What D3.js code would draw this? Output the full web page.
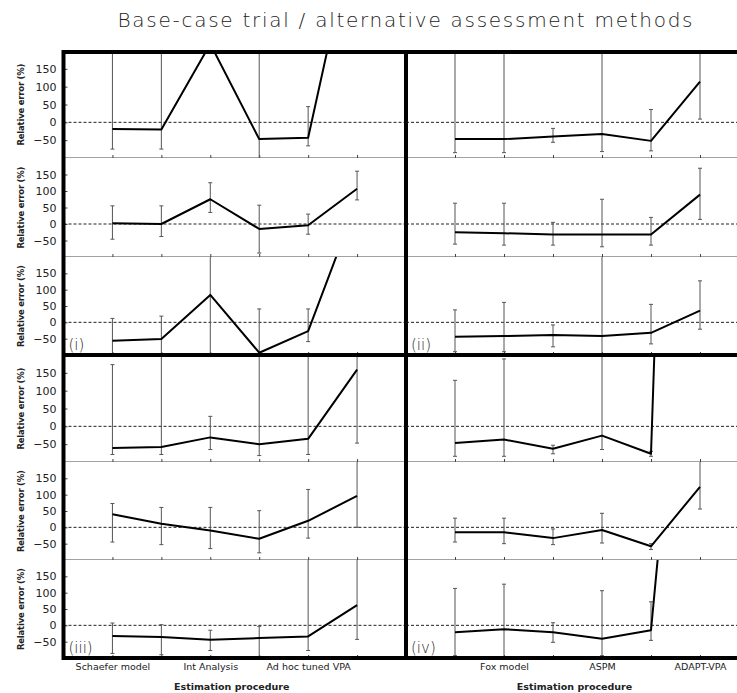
<!DOCTYPE html>
<html>
<head>
<meta charset="utf-8">
<script src="https://cdn.jsdelivr.net/npm/d3@7"></script>
<style>
  body { margin: 0; background: #fff; }
  text { font-family: "DejaVu Sans", Arial, sans-serif; fill: #222; }
</style>
</head>
<body>
<script>
// categories (labels only on every other method, as in the original)
var leftCategories = ["Schaefer model", "", "Int Analysis", "", "Ad hoc tuned VPA", ""];
var rightCategories = ["", "Fox model", "", "ASPM", "", "ADAPT-VPA"];
var yTicks = [-50, 0, 50, 100, 150];
var panelLabels = ["(i)", "(ii)", "(iii)", "(iv)"];

// relative error (%) per panel: median line and error bar limits
var q1Mean = [[-19, -20, 220, -47, -43, 580], [2, 0, 75, -15, -4, 107], [-56, -51, 84, -93, -27, 370]];
var q1Lo   = [[-75, -75, 210, -110, -66, 300], [-46, -38, 35, -88, -31, 73], [-110, -110, -110, -120, -59, 250]];
var q1Hi   = [[250, 250, 400, 250, 44, 900], [55, 55, 125, 57, 30, 160], [12, 19, 250, 41, 41, 600]];

var q2Mean = [[-47, -47, -40, -33, -52, 114], [-25, -28, -32, -32, -32, 89], [-44, -42, -39, -42, -32, 36]];
var q2Lo   = [[-85, -85, -56, -82, -80, 9], [-61, -64, -64, -69, -64, 14], [-90, -90, -75, -110, -66, -21]];
var q2Hi   = [[250, 250, -17, 250, 36, 250], [63, 63, 5, 75, 20, 169], [38, 61, -8, 250, 55, 127]];

var q3Mean = [[-61, -58, -31, -50, -35, 159], [40, 11, -10, -35, 20, 96], [-33, -36, -44, -39, -34, 62]];
var q3Lo   = [[-79, -79, -65, -82, -79, -47], [-45, -53, -65, -78, -33, 0], [-86, -90, -77, -110, -77, -43]];
var q3Hi   = [[173, 250, 28, 250, 250, 250], [73, 61, 61, 51, 116, 250], [7, 2, -15, -3, 250, 250]];

var q4Mean = [[-47, -37, -63, -26, -77, 4000], [-15, -15, -33, -8, -58, 124], [-21, -12, -21, -41, -15, 1580]];
var q4Lo   = [[-84, -84, -77, -65, -84, 3000], [-45, -50, -53, -48, -68, 56], [-93, -96, -52, -93, -46, 1000]];
var q4Hi   = [[129, 189, -53, 250, -70, 5000], [28, 28, -5, 43, -50, 205], [113, 126, 8, 106, 72, 2500]];

var W = 737, H = 693;
var svg = d3.select("body").append("svg").attr("width", W).attr("height", H);

var quads = [
  {x0: 63.5, x1: 406, ys: [51, 158, 257, 355], mean: q1Mean, lo: q1Lo, hi: q1Hi, cats: leftCategories, yAxis: true},
  {x0: 406, x1: 749, ys: [51, 158, 257, 355], mean: q2Mean, lo: q2Lo, hi: q2Hi, cats: rightCategories, yAxis: false},
  {x0: 63.5, x1: 406, ys: [355, 462, 560, 658], mean: q3Mean, lo: q3Lo, hi: q3Hi, cats: leftCategories, yAxis: true},
  {x0: 406, x1: 749, ys: [355, 462, 560, 658], mean: q4Mean, lo: q4Lo, hi: q4Hi, cats: rightCategories, yAxis: false}
];

var idx = d3.range(1, 7);
var clipId = 0;

quads.forEach(function(q, qi){
  var x = d3.scaleLinear().domain([0, 7]).range([q.x0, q.x1]);

  for (var p = 0; p < 3; p++) {
    var top = q.ys[p], bot = q.ys[p + 1];
    var y = d3.scaleLinear().domain([-100, 200]).range([bot, top]);
    var mean = q.mean[p], lo = q.lo[p], hi = q.hi[p];

    var id = "clip" + (clipId++);
    svg.append("clipPath").attr("id", id)
      .append("rect").attr("x", q.x0).attr("y", top).attr("width", q.x1 - q.x0).attr("height", bot - top);

    var g = svg.append("g").attr("clip-path", "url(#" + id + ")");

    // panel separator
    g.append("line")
      .attr("x1", q.x0).attr("x2", q.x1).attr("y1", bot).attr("y2", bot)
      .attr("stroke", "#444").attr("stroke-width", 1);

    // zero reference
    g.append("line")
      .attr("x1", q.x0).attr("x2", q.x1).attr("y1", y(0)).attr("y2", y(0))
      .attr("stroke", "#222").attr("stroke-width", 1).attr("stroke-dasharray", "3,2");

    // x ticks (pointing up from panel bottom)
    var xa = g.append("g").attr("transform", "translate(0," + bot + ")")
      .call(d3.axisTop(x).tickValues(idx).tickSize(3).tickFormat(""));
    xa.select(".domain").remove();
    xa.selectAll("line").attr("stroke", "#444");

    // error bars
    var eb = g.append("g").attr("stroke", "#555").attr("stroke-width", 1);
    idx.forEach(function(k, i){
      eb.append("line").attr("x1", x(k)).attr("x2", x(k)).attr("y1", y(lo[i])).attr("y2", y(hi[i]));
      eb.append("line").attr("x1", x(k) - 2).attr("x2", x(k) + 2).attr("y1", y(lo[i])).attr("y2", y(lo[i]));
      eb.append("line").attr("x1", x(k) - 2).attr("x2", x(k) + 2).attr("y1", y(hi[i])).attr("y2", y(hi[i]));
    });

    // median line
    var line = d3.line().x(function(d, i){ return x(idx[i]); }).y(function(d){ return y(d); });
    g.append("path").datum(mean)
      .attr("d", line).attr("fill", "none").attr("stroke", "#000")
      .attr("stroke-width", 2).attr("stroke-linejoin", "round");

    if (q.yAxis) {
      var ya = svg.append("g").attr("transform", "translate(" + q.x0 + ",0)")
        .call(d3.axisLeft(y).tickValues(yTicks).tickSize(-4).tickPadding(7));
      ya.select(".domain").remove();
      ya.selectAll("line").attr("stroke", "#444");
      ya.selectAll("text").attr("font-size", 11).style("fill", "#222");

      svg.append("text")
        .attr("transform", "translate(24," + ((top + bot) / 2) + ") rotate(-90)")
        .attr("text-anchor", "middle")
        .attr("font-size", 8.5).attr("font-weight", "bold")
        .attr("textLength", 82).attr("lengthAdjust", "spacing")
        .text("Relative error (%)");
    }
  }

  // category labels under the bottom quadrants
  if (qi >= 2) {
    var bx = svg.append("g").attr("transform", "translate(0," + (q.ys[3] + 2) + ")")
      .call(d3.axisBottom(x).tickValues(idx).tickSize(0).tickPadding(3)
        .tickFormat(function(k){ return q.cats[k - 1]; }));
    bx.select(".domain").remove();
    bx.selectAll("text").attr("font-size", 9.5).style("fill", "#222");

    svg.append("text")
      .attr("x", (q.x0 + q.x1) / 2 - 3).attr("y", 690)
      .attr("text-anchor", "middle").attr("font-size", 9.5).attr("font-weight", "bold")
      .text("Estimation procedure");
  }

  svg.append("text")
    .attr("x", q.x0 + 5).attr("y", q.ys[3] - 5)
    .attr("font-size", 15).attr("font-weight", 300).style("fill", "#222")
    .text(panelLabels[qi]);
});

// heavy frame and cross
var frame = svg.append("g").attr("stroke", "#000").attr("stroke-width", 4).attr("fill", "none");
frame.append("rect").attr("x", 63.5).attr("y", 52).attr("width", 749 - 63.5).attr("height", 658 - 52);
frame.append("line").attr("x1", 406).attr("x2", 406).attr("y1", 52).attr("y2", 658);
frame.append("line").attr("x1", 63.5).attr("x2", 749).attr("y1", 355).attr("y2", 355);

svg.append("text")
  .attr("x", 405).attr("y", 27)
  .attr("text-anchor", "middle").attr("font-size", 20).attr("font-weight", 200)
  .attr("textLength", 575).attr("lengthAdjust", "spacing")
  .style("fill", "#222")
  .text("Base-case trial / alternative assessment methods");
</script>
</body>
</html>
